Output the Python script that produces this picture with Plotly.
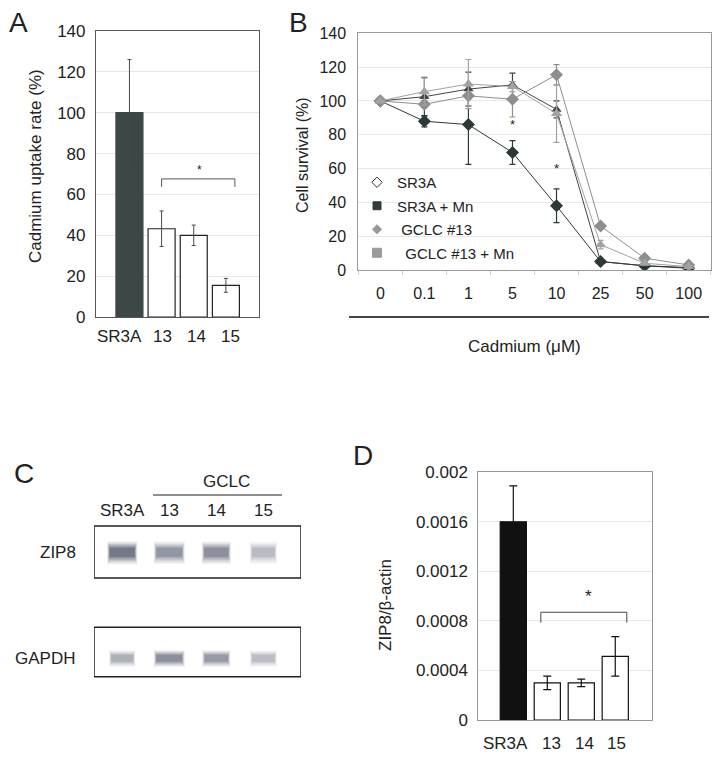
import plotly.graph_objects as go

W, H = 723, 759
def px(p):
    return p / W
def py(p):
    return 1 - p / H

FONT = "Liberation Sans, Arial, sans-serif"
TXT = "#222222"

# ---------------- Panel A data ----------------
a_categories = ["SR3A", "13", "14", "15"]
a_uptake = [100, 43.2, 40, 15.5]
a_uptake_err = [26, 8.7, 5, 3.4]
a_bracket_x = [1, 3.28]
a_bracket_y = [63.7, 67.6]
a_star = (2.18, 72)

# ---------------- Panel B data ----------------
b_doses = ["0", "0.1", "1", "5", "10", "25", "50", "100"]
b_series_names = ["SR3A", "SR3A + Mn", "GCLC #13", "GCLC #13 + Mn"]
b_sr3a = [100, 102.5, 107, 109.5, 95, 5, 2.5, 1.5]
b_sr3a_err = [0, 11.5, 10, 7, 5, 1, 0.5, 0.5]
b_sr3a_mn = [100, 88, 86, 69.5, 38, 5, 2.5, 1]
b_sr3a_mn_err = [0, 3.3, 23.5, 7, 10, 1, 0.5, 0.5]
b_gclc = [100, 98, 103, 101, 115.5, 26, 7, 3]
b_gclc_err = [0, 2, 6, 10.5, 6, 1, 1, 1]
b_gclc_mn = [100, 105.5, 110, 108.5, 92.5, 15, 4, 2]
b_gclc_mn_err = [0, 8, 14.5, 3, 17, 2.5, 1, 1]
b_stars = [("5", 86), ("10", 60)]

# ---------------- Panel C data ----------------
c_lanes = ["SR3A", "13", "14", "15"]
c_rows = ["ZIP8", "GAPDH"]
c_zip8_intensity = [1.0, 0.68, 0.74, 0.4]
c_zip8_width = [0.64, 0.66, 0.62, 0.58]
c_gapdh_intensity = [0.48, 0.74, 0.66, 0.38]
c_gapdh_width = [0.56, 0.66, 0.6, 0.58]

# ---------------- Panel D data ----------------
d_categories = ["SR3A", "13", "14", "15"]
d_ratio = [0.0016, 0.0003, 0.0003, 0.000514]
d_ratio_err = [0.00029, 0.000055, 0.00003, 0.00016]
d_bracket_x = [0.81, 3.34]
d_bracket_y = [0.000786, 0.00087]
d_star = (2.2, 0.001)
d_ticks = [0, 0.0004, 0.0008, 0.0012, 0.0016, 0.002]
d_ticktext = ["0", "0.0004", "0.0008", "0.0012", "0.0016", "0.002"]

# small horizontal nudges of category labels (in category units)
A_LABEL_SHIFT = [-0.3, 0.02, 0.1, 0.15]
D_LABEL_SHIFT = [-0.22, 0.13, 0.09, 0.05]
# blot frame offsets relative to each band row (row units)
C_BOX_TOP = [-0.245, -0.29]
C_BOX_BOTTOM = [0.245, 0.176]
C_BAND_HEIGHT = [0.2, 0.15]

fig = go.Figure()

# ---- Panel A ----
idx_a = list(range(len(a_categories)))
fig.add_trace(go.Bar(
    x=idx_a, y=a_uptake, width=0.84,
    marker=dict(color=["#3d4747", "white", "white", "white"],
                line=dict(color=["#3d4747", "#222", "#222", "#222"], width=1.2)),
    error_y=dict(type="data", array=a_uptake_err, color="#4a4a4a", thickness=1, width=2),
    xaxis="x", yaxis="y", showlegend=False))
fig.add_trace(go.Scatter(
    x=[a_bracket_x[0], a_bracket_x[0], a_bracket_x[1], a_bracket_x[1]],
    y=[a_bracket_y[0], a_bracket_y[1], a_bracket_y[1], a_bracket_y[0]],
    mode="lines", line=dict(color="#555", width=1), xaxis="x", yaxis="y",
    showlegend=False, hoverinfo="skip"))

# ---- Panel B ----
b_specs = [
    (b_sr3a, b_sr3a_err, "#3e4646", "triangle-up", 9),
    (b_sr3a_mn, b_sr3a_mn_err, "#2f3838", "diamond", 10),
    (b_gclc, b_gclc_err, "#8e8e8e", "diamond", 10),
    (b_gclc_mn, b_gclc_mn_err, "#a2a2a2", "triangle-up", 10),
]
for (vals, errs, col, sym, sz), name in zip(b_specs, b_series_names):
    fig.add_trace(go.Scatter(
        x=b_doses, y=vals, mode="lines+markers", name=name,
        line=dict(color=col, width=1),
        marker=dict(color=col, symbol=sym, size=sz),
        error_y=dict(type="data", array=errs, color=col, thickness=1.2, width=3),
        xaxis="x2", yaxis="y2", showlegend=False))
# legend entries
leg_specs = [
    ("diamond-open", "#333", 8),
    ("square", "#333c3c", 8),
    ("diamond", "#999", 7),
    ("square", "#9a9a9a", 9),
]
leg_labels = ["SR3A", "SR3A + Mn", " GCLC #13", "  GCLC #13 + Mn"]
for (sym, col, sz), lab in zip(leg_specs, leg_labels):
    fig.add_trace(go.Scatter(
        x=[None], y=[None], mode="markers", name=lab, legendgroup=lab,
        marker=dict(symbol=sym, color=col, size=sz, line=dict(color=col, width=1)),
        xaxis="x2", yaxis="y2", showlegend=True))

# ---- Panel D ----
idx_d = list(range(len(d_categories)))
fig.add_trace(go.Bar(
    x=idx_d, y=d_ratio, width=0.77,
    marker=dict(color=["#111", "white", "white", "white"],
                line=dict(color="#111", width=1.2)),
    error_y=dict(type="data", array=d_ratio_err, color="#111", thickness=1.2, width=4),
    xaxis="x4", yaxis="y4", showlegend=False))
fig.add_trace(go.Scatter(
    x=[d_bracket_x[0], d_bracket_x[0], d_bracket_x[1], d_bracket_x[1]],
    y=[d_bracket_y[0], d_bracket_y[1], d_bracket_y[1], d_bracket_y[0]],
    mode="lines", line=dict(color="#444", width=1), xaxis="x4", yaxis="y4",
    showlegend=False, hoverinfo="skip"))

# ---- Panel C (blot) ----
shapes = []
band_color = "#262e45"
layers = [(1.0, 0.08), (0.88, 0.1), (0.76, 0.13), (0.64, 0.16), (0.52, 0.2), (0.4, 0.25)]
for r, (ints, wids) in enumerate([(c_zip8_intensity, c_zip8_width),
                                  (c_gapdh_intensity, c_gapdh_width)]):
    hh = C_BAND_HEIGHT[r]
    shapes.append(dict(type="rect", xref="x3", yref="y3", x0=-0.6, x1=3.8,
                       y0=r + C_BOX_TOP[r], y1=r + C_BOX_BOTTOM[r],
                       line=dict(color="#222", width=1.5),
                       fillcolor="white", layer="below"))
    for lane, (it, w) in enumerate(zip(ints, wids)):
        for s, op in layers:
            shapes.append(dict(type="rect", xref="x3", yref="y3",
                               x0=lane - w / 2 * (0.72 + 0.28 * s),
                               x1=lane + w / 2 * (0.72 + 0.28 * s),
                               y0=r - hh / 2 * s, y1=r + hh / 2 * s * 1.15,
                               fillcolor=band_color, opacity=op * it,
                               line=dict(width=0)))
# GCLC line
shapes.append(dict(type="line", xref="paper", yref="paper",
                   x0=px(153), x1=px(282), y0=py(495), y1=py(495),
                   line=dict(color="#222", width=1.2)))
# Panel B underline
shapes.append(dict(type="line", xref="paper", yref="paper",
                   x0=px(349), x1=px(709), y0=py(317), y1=py(317),
                   line=dict(color="#444", width=2)))

ann = []
def label(x, y, t, size=17, xref="paper", yref="paper", **kw):
    d = dict(x=x, y=y, xref=xref, yref=yref, text=t, showarrow=False,
             xanchor="center", yanchor="middle",
             font=dict(family=FONT, size=size, color=TXT))
    d.update(kw)
    ann.append(d)

# panel letters
label(px(18), py(23), "A", size=28)
label(px(298), py(23), "B", size=28)
label(px(24), py(473), "C", size=28)
label(px(363), py(455), "D", size=28)
# axis titles
label(px(35), py(166), "Cadmium uptake rate (%)", textangle=-90)
label(px(303), py(155), "Cell survival (%)", size=16, textangle=-90)
label(px(524), py(347), "Cadmium (μM)")
label(px(385), py(605), "ZIP8/β-actin", textangle=-90)
# category labels for bar panels
for i, (cat, dx) in enumerate(zip(a_categories, A_LABEL_SHIFT)):
    label(i + dx, py(337), cat, xref="x")
for i, (cat, dx) in enumerate(zip(d_categories, D_LABEL_SHIFT)):
    label(i + dx, py(743), cat, xref="x4")
# stars (category axis: position by category index)
label(a_star[0], a_star[1], "*", size=12, xref="x", yref="y")
for sx, sy in b_stars:
    label(b_doses.index(sx), sy, "*", size=13, xref="x2", yref="y2")
label(d_star[0], d_star[1], "*", size=17, xref="x4", yref="y4")
# panel C text
label(px(226), py(481), "GCLC")
for i, lane in enumerate(c_lanes):
    label(i, py(510), lane, xref="x3")
label(px(58), py(552), c_rows[0])
label(px(45), py(658), c_rows[1])

axis_font = dict(family=FONT, size=17, color=TXT)
fig.update_layout(
    width=W, height=H, margin=dict(l=0, r=0, t=0, b=0, pad=0, autoexpand=False),
    paper_bgcolor="white", plot_bgcolor="white",
    font=dict(family=FONT, color=TXT),
    shapes=shapes, annotations=ann, barmode="overlay",
    legend=dict(x=px(357), y=py(166), xanchor="left", yanchor="top",
                bgcolor="rgba(0,0,0,0)", font=dict(family=FONT, size=15, color=TXT),
                tracegroupgap=1, itemwidth=30),
    xaxis=dict(domain=[px(96), px(259)], range=[-1.04, 4.03], tickvals=idx_a,
               showticklabels=False, showline=True, mirror=True, linecolor="#555",
               linewidth=1.2, showgrid=False, zeroline=False, ticks="", anchor="y",
               automargin=False),
    yaxis=dict(domain=[py(317), py(31)], range=[0, 140], dtick=20, showline=True,
               mirror=True, linecolor="#555", linewidth=1.2, gridcolor="#e8e8e8",
               zeroline=False, ticks="", anchor="x", tickfont=axis_font,
               ticklabelstandoff=6, automargin=False),
    xaxis2=dict(domain=[px(358.3), px(710.7)], type="category", range=[-0.5, 7.5],
                categoryorder="array", categoryarray=b_doses,
                showline=True, mirror=True, linecolor="#9a9a9a",
                linewidth=1, showgrid=False, zeroline=False, ticks="outside",
                tickson="boundaries", ticklen=4, tickcolor="#d0d0d0", anchor="y2",
                tickangle=0, tickfont=dict(family=FONT, size=16, color=TXT),
                ticklabelstandoff=9, automargin=False),
    yaxis2=dict(domain=[py(270), py(33.3)], range=[0, 140], dtick=20, showline=True,
                mirror=True, linecolor="#9a9a9a", linewidth=1, gridcolor="#e8e8e8",
                zeroline=False, ticks="", anchor="x2",
                tickfont=dict(family=FONT, size=16, color=TXT), ticklabelstandoff=8,
                automargin=False),
    xaxis3=dict(domain=[px(94), px(301)], range=[-0.6, 3.8], visible=False, anchor="y3",
                automargin=False),
    yaxis3=dict(domain=[py(690), py(520)], range=[1.302, -0.302], visible=False,
                anchor="x3", automargin=False),
    xaxis4=dict(domain=[px(478.3), px(652.3)], range=[-1.03, 4.09], tickvals=idx_d,
                showticklabels=False, showline=True, mirror=True, linecolor="#999",
                linewidth=1, showgrid=False, zeroline=False, ticks="", anchor="y4",
                automargin=False),
    yaxis4=dict(domain=[py(720), py(472.3)], range=[0, 0.002], tickvals=d_ticks,
                ticktext=d_ticktext, showline=True, mirror=True, linecolor="#999",
                linewidth=1, gridcolor="#e8e8e8", zeroline=False, ticks="", anchor="x4",
                tickfont=axis_font, ticklabelstandoff=6, automargin=False),
)

fig.write_html("out.html", config={"displayModeBar": False},
               post_script="document.body.style.margin='0';document.body.style.overflow='hidden';")
